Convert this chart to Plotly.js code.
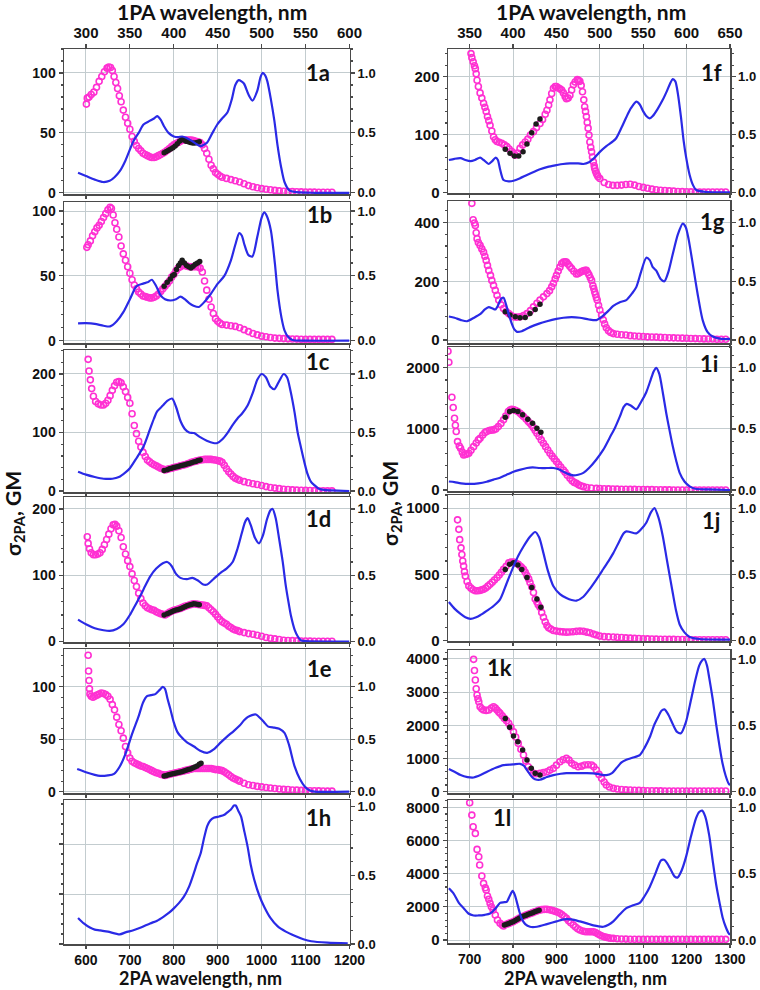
<!DOCTYPE html>
<html><head><meta charset="utf-8">
<script src="https://cdn.plot.ly/plotly-3.0.1.min.js"></script>
<style>html,body{margin:0;padding:0;background:#fff}#c{width:760px;height:990px}</style>
</head><body><div id="c"></div>
<script>
// ---------- DATA ----------
// 1a
const pinkX_a=[601,603,607,612,618,624,630,636,642,648,652,656,660,664,668,672,676,680,685,690,695,700,705,710,715,720,725,730,735,740,745,750,755,760,765,770,775,780,785,790,795,800,805,810,815,820,825,830,835,840,845,850,855,860,865,870,875,880,885,890,895,900,905,910,920,930,940,950,960,970,980,990,1000,1010,1020,1030,1040,1050,1060,1070,1080,1090,1100,1110,1120,1130,1140,1150,1160];
const pinkY_a=[74,79,80,82,84,88,93,97,101,104,105,104.5,102,97,92,87,81,76,69,63,58,53,47,43,39.5,37,35,33,32,31,30,29.5,29.5,30,31,32,33,34,35.5,37,38.5,40,41,42,43,44,44,44,44,44,43.5,43,42.5,42,40,37,33,28,23,20,17,15.5,14,13,12,11,10,9,7.5,6,5,4.2,3.5,3,2.5,2,1.6,1.3,1.1,1,0.9,0.8,0.7,0.6,0.6,0.5,0.5,0.5,0.5];
const blackX_a=[778,783,788,793,798,803,808,813,818,823,828,833,838,843,848,853,858];
const blackY_a=[33.5,34.5,35.5,36.5,37.5,39,41,43,44.5,44,43,42.5,42,41.5,41.5,42,42.5];
const blueX_a=[582,600,620,639,654,665,677,690,708,720,731,745,755,762,770,777,788,800,810,819,828,838,850,861,868,876,888,899,910,922,932,940,948,954,960,970,979,990,997,1002,1008,1013,1021,1029,1036,1044,1052,1063,1080,1120,1200];
const blueY_a=[0.167,0.14,0.11,0.09,0.1,0.13,0.18,0.27,0.43,0.5,0.57,0.6,0.62,0.64,0.61,0.56,0.5,0.47,0.465,0.47,0.46,0.44,0.41,0.39,0.4,0.42,0.5,0.57,0.62,0.67,0.78,0.9,0.94,0.93,0.91,0.82,0.77,0.85,0.96,1.0,0.98,0.93,0.78,0.6,0.4,0.22,0.09,0.02,0.005,0,0];
// 1b
const pinkX_b=[602,605,610,615,620,625,630,635,640,645,650,655,658,662,666,670,675,680,685,690,695,700,705,710,715,720,725,730,735,740,745,750,755,760,765,770,775,780,785,790,795,800,805,810,815,820,825,830,835,840,845,850,855,860,865,870,875,880,885,890,895,900,905,910,920,930,940,950,960,970,980,990,1000,1010,1020,1030,1040,1050,1060,1070,1080,1090,1100,1110,1120,1130,1140,1150,1160];
const pinkY_b=[72,74,77,81,84,87,89,92,95,98,101,103,102,97,91,86,80,73,67,62,57,52,47,43,40,37.5,36,34.5,34,33.5,33,33,33.5,34.5,36,38,40,42,44,46,49,51,54,56,57,58,58,57.5,57,57,57,57,57,56,53,46,39,32,26,21,17,15,13.5,12.5,12,11.5,11,10,8.5,7,5.5,4.5,3.5,3,2.5,2,1.8,1.6,1.4,1.3,1.2,1.1,1,1,1,1,1,1,1];
const blackX_b=[778,785,792,797,801,806,811,815,819,824,829,834,839,844,849,854,859];
const blackY_b=[42,45,47.5,50,51,55,58,60,62,60,58,57,56,57.5,59,60,61];
const blueX_b=[582,600,620,640,655,670,685,700,715,730,740,750,760,770,780,792,805,815,825,835,845,857,870,884,900,915,930,940,949,955,960,970,979,990,1000,1006,1012,1021,1030,1036,1045,1052,1060,1070,1100,1200];
const blueY_b=[0.134,0.135,0.13,0.115,0.11,0.15,0.22,0.32,0.42,0.44,0.45,0.47,0.42,0.35,0.32,0.31,0.32,0.34,0.32,0.29,0.27,0.26,0.3,0.36,0.44,0.5,0.62,0.74,0.83,0.81,0.75,0.66,0.65,0.8,0.95,0.99,0.96,0.85,0.6,0.39,0.18,0.08,0.03,0.005,0,0];
// 1c
const pinkX_c=[605,607,610,613,617,622,628,634,640,645,650,655,660,665,670,675,680,685,690,695,700,705,710,715,720,725,730,735,740,745,750,755,760,765,770,775,780,785,790,795,800,805,810,815,820,825,830,835,840,845,850,855,860,865,870,875,880,885,890,895,900,905,910,915,920,925,930,935,940,945,950,960,970,980,990,1000,1010,1020,1030,1040,1050,1060,1070,1080,1090,1100,1110,1120,1130,1140,1150,1160];
const pinkY_c=[225,205,190,175,162,153,149,147,147,150,155,163,172,180,186,187,185,178,170,160,150,132,112,98,85,75,66,59,53,50,47,45,43,41,39,37.5,36,37,38,39,40,41,42,43,44,45,46,47.5,49,50,51,52,53,53.5,54,54,54,54,53.5,53,52,51,49,44,38,33,29,25,22,20,18.5,16,14,12.5,11,9.5,7.5,6,5,4,3,2.5,2,1.5,1.2,1,0.8,0.6,0.5,0.4,0.3,0.3];
const blackX_c=[778,785,790,795,800,805,810,815,820,825,830,835,840,845,850,855,860];
const blackY_c=[35,36.5,38,39,40,41,42,43,44,45,46,47,48.5,49.5,50.5,52,53];
const blueX_c=[582,600,620,640,660,675,690,700,715,731,745,755,762,775,785,796,805,815,825,835,846,860,875,890,899,910,922,935,945,955,968,980,990,1000,1010,1020,1029,1040,1050,1058,1066,1075,1082,1089,1097,1104,1112,1120,1130,1142,1160,1200];
const blueY_c=[0.165,0.14,0.12,0.105,0.105,0.12,0.16,0.195,0.28,0.38,0.52,0.62,0.68,0.73,0.77,0.79,0.72,0.6,0.53,0.5,0.495,0.46,0.43,0.41,0.41,0.44,0.495,0.57,0.62,0.66,0.73,0.84,0.95,1.0,0.97,0.89,0.87,0.94,1.0,0.97,0.85,0.67,0.5,0.38,0.25,0.15,0.08,0.05,0.02,0.01,0.005,0];
// 1d
const pinkX_d=[603,605,608,612,617,622,627,632,637,642,647,652,657,662,666,670,675,680,685,690,695,700,705,710,715,720,725,730,735,740,745,750,755,760,765,770,775,780,785,790,795,800,805,810,815,820,825,830,835,840,845,850,855,860,865,870,875,880,885,890,895,900,905,910,915,920,925,930,935,940,945,950,960,970,980,990,1000,1010,1020,1030,1040,1050,1060,1070,1080,1090,1100,1110,1120,1130,1140,1150,1160];
const pinkY_d=[158,148,140,134,131,131,132,134,139,146,154,162,170,176,177,174,167,157,143,132,122,113,102,92,83,73,65,58,54,51,49.5,48,47,45,43.5,42,41,40,42,44,45.5,47,48,49,50,51.5,53,54,55,56,57,56.5,56,55.5,55,54.5,54,51,48,45,41,37,33,30,28,26,23,21,19,17.5,16.5,15,13.5,12,11,9.5,8,6,5,4,3,2,1.6,1.3,1,0.8,0.7,0.6,0.5,0.5,0.5,0.5,0.5];
const blackX_d=[778,785,790,795,800,805,810,815,820,825,830,835,840,845,850,855,858];
const blackY_d=[40,42,43.5,45,46.5,47.5,48.5,49.5,51,52.5,54,55,56,57,56.5,56,55.5];
const blueX_d=[582,600,620,640,654,670,685,700,710,723,735,746,760,775,785,795,805,815,830,842,855,867,876,890,907,920,934,945,955,962,968,975,985,994,1003,1012,1020,1025,1032,1040,1048,1055,1062,1067,1075,1082,1089,1100,1200];
const blueY_d=[0.165,0.13,0.1,0.085,0.08,0.095,0.13,0.2,0.26,0.34,0.42,0.49,0.55,0.59,0.6,0.57,0.51,0.48,0.47,0.48,0.46,0.43,0.43,0.47,0.52,0.55,0.6,0.7,0.82,0.9,0.93,0.88,0.78,0.74,0.8,0.92,0.99,1.0,0.93,0.77,0.6,0.42,0.28,0.19,0.09,0.04,0.01,0.003,0];
// 1e
const pinkX_e=[605,606,607,608,609,612,616,620,625,630,635,640,645,650,655,660,665,670,675,680,685,690,695,700,705,710,715,720,725,730,735,740,745,750,755,760,765,770,775,780,785,790,795,800,805,810,815,820,825,830,835,840,845,850,855,860,865,870,875,880,885,890,895,900,905,910,915,920,925,930,935,940,945,950,960,970,980,990,1000,1010,1020,1030,1040,1050,1060,1070,1080,1090,1100,1110,1120,1130,1140,1150,1160];
const pinkY_e=[130,115,106,98,93,91,90,91,92,93,94,93.5,92.5,91,88,83,78,71,64,58,51,43,37,32,29,27.5,26.5,25.5,24.5,24,23,22,21,20,19,18,17.5,16.5,16,15.5,16,16.5,17,17.5,18,18.5,19,19.5,20,20.5,21,21.5,22,22,22,22,22,22,22,22,22,21.5,21,21,20.5,20,19,17.5,16,14.5,13,12,11,10,8,6.5,5.8,5,4.5,4,3.5,3,2.5,2.2,2,1.6,1.4,1.2,1,0.9,0.8,0.7,0.6,0.5,0.5];
const blackX_e=[778,783,788,793,798,803,808,813,818,823,828,833,838,843,848,853,858,862];
const blackY_e=[15,15.5,16,16.5,17,17.5,18,18.5,19,19.7,20.5,21,21.5,22.5,23.5,24.5,26,27];
const blueX_e=[580,600,620,632,650,664,677,690,705,720,730,739,748,758,768,775,780,786,792,800,808,815,830,846,860,876,890,907,920,937,950,960,968,978,987,997,1006,1015,1029,1040,1052,1062,1075,1087,1098,1110,1120,1200];
const blueY_e=[0.215,0.185,0.16,0.15,0.155,0.17,0.24,0.36,0.55,0.72,0.85,0.91,0.92,0.93,0.97,1.0,0.98,0.88,0.79,0.66,0.57,0.53,0.47,0.43,0.39,0.37,0.4,0.47,0.52,0.58,0.63,0.68,0.71,0.73,0.735,0.7,0.66,0.62,0.61,0.6,0.56,0.45,0.24,0.12,0.05,0.01,0,0];
// 1h
const blueX_h=[582,595,609,620,632,650,677,690,708,725,746,762,777,790,800,812,823,835,846,853,861,868,876,883,891,903,914,922,930,937,941,947,953,960,968,975,983,995,1006,1020,1036,1055,1075,1095,1113,1150,1196];
const blueY_h=[0.19,0.15,0.12,0.105,0.1,0.09,0.07,0.085,0.1,0.12,0.15,0.17,0.2,0.23,0.26,0.3,0.345,0.42,0.52,0.59,0.66,0.76,0.86,0.9,0.92,0.93,0.94,0.96,0.98,1.01,1.01,0.97,0.93,0.83,0.71,0.58,0.47,0.35,0.27,0.19,0.13,0.09,0.06,0.035,0.02,0.01,0.005];
// 1f
const pinkX_f=[703,705,708,711,713,715,717,720,724,728,732,735,738,741,744,747,751,755,759,763,768,774,780,786,791,797,801,805,810,816,822,828,834,840,847,854,862,868,874,878,882,885,889,893,897,900,904,908,912,916,920,923,927,931,935,939,943,948,951,954,957,960,963,965,967,969,971,973,975,977,979,981,983,985,987,988,990,992,994,996,1000,1010,1020,1030,1040,1050,1060,1070,1080,1090,1100,1110,1120,1130,1140,1150,1160,1170,1180,1190,1200,1210,1220,1230,1240,1250,1260,1270,1280,1290];
const pinkY_f=[240,233,226,219,214,205,194,183,172,163,154,147,140,131,124,116,106,96,91,88,86.5,85,82,79,75,70.5,67,64,68,76,82,87,92,99,105,112,119,126,135,142,151,160,171,180,183,183,181,179,177,172,166,162,163,168,177,186,191,195,194,192,185,174,160,148,140,131,121,111,99,87,78,70,61,53,46,41.5,37,33,30,27,24,17,13.5,12,12,12.5,13.5,14,12.5,10,8.5,7,5.5,4.5,3.5,3,2.5,2,1.5,1.2,1,0.8,0.6,0.5,0.5,0.5,0.5,0.5,0.5,0.5];
const blackX_f=[782,793,803,813,823,832,843,853,862];
const blackY_f=[74.5,67.6,62.9,62.9,70.3,83.6,103,118,127];
const blueX_f=[652,665,679,690,702,712,724,732,744,752,760,765,770,778,790,801,815,832,850,862,880,900,915,931,950,962,975,985,1000,1015,1030,1038,1050,1061,1072,1084,1092,1100,1107,1115,1122,1133,1145,1155,1163,1168,1174,1180,1187,1193,1199,1207,1215,1222,1240,1260,1300];
const blueY_f=[0.28,0.29,0.295,0.28,0.27,0.28,0.3,0.28,0.245,0.27,0.3,0.28,0.2,0.106,0.095,0.1,0.12,0.15,0.18,0.2,0.22,0.235,0.245,0.25,0.25,0.245,0.26,0.29,0.35,0.4,0.44,0.47,0.56,0.65,0.73,0.785,0.76,0.7,0.66,0.64,0.66,0.72,0.8,0.88,0.95,0.98,0.96,0.85,0.65,0.45,0.3,0.15,0.06,0.02,0.005,0,0];
// 1g
const pinkX_g=[705,708,711,713,715,717,720,724,728,732,735,738,741,744,748,751,755,759,763,767,772,778,784,790,795,801,808,816,824,832,840,847,855,862,870,878,884,889,893,897,900,904,908,912,916,920,923,927,931,935,940,946,950,954,958,962,966,969,972,975,978,981,984,986,988,990,992,994,997,1000,1004,1008,1011,1015,1020,1025,1031,1040,1050,1060,1070,1080,1090,1100,1110,1120,1130,1140,1150,1160,1170,1180,1190,1200,1210,1220,1230,1240,1250,1260,1270,1280,1290];
const pinkY_g=[465,409,398,390,365,345,332,322,310,299,285,271,254,237,220,203,186,169,152,136,120,107,97,90,84,79,78,79,83,90,100,113,125,136,147,158,168,181,193,208,220,235,248,260,265,266,265,258,250,243,234,225,226,230,233,236,237,237,230,222,212,203,185,175,164,155,145,136,118,102,85,68,55,42,32,26,22,20,18,17,15,14,13,12,11,10.5,10,9,8.5,8,7.5,7,6.5,6,5.5,5,4.5,4,3.5,3.5,3,3,3];
const blackX_g=[782,793,805,816,828,839,851,862];
const blackY_g=[96,85,79,75.5,77,90,104,122];
const blueX_g=[652,665,680,694,710,724,735,744,752,759,766,772,778,784,790,797,803,809,820,839,860,878,900,916,935,954,975,992,1005,1020,1031,1045,1061,1075,1084,1095,1107,1115,1122,1130,1140,1149,1158,1168,1180,1191,1198,1205,1214,1225,1237,1248,1260,1280,1300];
const blueY_g=[0.2,0.19,0.17,0.16,0.19,0.22,0.26,0.28,0.27,0.26,0.3,0.35,0.36,0.3,0.22,0.14,0.09,0.07,0.075,0.11,0.14,0.16,0.18,0.19,0.195,0.19,0.175,0.17,0.2,0.25,0.29,0.32,0.34,0.4,0.45,0.58,0.7,0.68,0.62,0.59,0.52,0.5,0.58,0.73,0.9,0.99,0.96,0.85,0.65,0.4,0.17,0.07,0.03,0.01,0.01];
// 1i
const pinkX_i=[650,652,659,662,665,667,669,672,676,679,683,686,690,694,698,703,709,715,720,724,730,735,739,745,750,755,760,766,772,778,783,789,793,797,802,806,811,816,820,824,830,835,839,843,847,851,855,860,865,870,875,880,885,890,895,900,905,910,916,920,925,931,936,941,946,951,956,962,970,980,992,1000,1010,1020,1030,1040,1050,1060,1070,1080,1090,1100,1110,1120,1130,1140,1150,1160,1170,1180,1190,1200,1210,1220,1230,1240,1250,1260,1270,1280,1290];
const pinkY_i=[2270,2090,1519,1350,1175,1060,957,792,720,683,620,574,580,590,601,650,710,770,820,847,900,940,957,975,980,984,1000,1038,1090,1148,1210,1284,1310,1322,1312,1300,1284,1255,1230,1202,1160,1120,1093,1060,1020,975,929,875,820,765,710,655,601,555,510,465,420,375,328,290,240,191,150,125,109,85,70,55,42,33,27,24,21,18,16,15,13,12,11,10,9,8,7,6,5,4,3,2,1.5,1,1,1,1,1,1,1,1,1,1,1,1];
const blackX_i=[782,792,801,811,822,834,845,855,864];
const blackY_i=[1191,1284,1300,1284,1230,1158,1093,1011,945];
const blueX_i=[652,665,680,702,720,739,755,770,785,801,815,832,845,862,878,893,905,916,928,939,950,962,975,992,1008,1023,1035,1046,1055,1062,1072,1084,1095,1107,1117,1124,1130,1137,1145,1153,1160,1168,1176,1184,1195,1207,1220,1250,1300];
const blueY_i=[0.07,0.065,0.055,0.05,0.055,0.068,0.085,0.1,0.125,0.15,0.165,0.18,0.185,0.18,0.18,0.18,0.17,0.15,0.13,0.12,0.125,0.14,0.18,0.25,0.33,0.43,0.51,0.6,0.68,0.705,0.69,0.66,0.72,0.8,0.9,0.97,1.0,0.95,0.8,0.63,0.5,0.36,0.24,0.14,0.07,0.03,0.01,0.005,0];
// 1j
const pinkX_j=[672,675,677,680,682,684,686,688,690,694,698,703,708,713,718,723,728,732,737,742,747,752,757,763,768,773,778,784,790,795,801,806,812,817,820,824,828,832,836,839,843,847,851,855,858,862,866,870,874,878,882,887,893,900,908,915,923,930,938,946,954,962,970,977,985,992,1000,1010,1020,1031,1040,1050,1060,1070,1080,1090,1100,1110,1120,1130,1140,1150,1160,1170,1180,1190,1200,1210,1220,1230,1240,1250,1260,1270,1280,1290];
const pinkY_j=[912,840,762,700,650,600,562,520,487,445,412,395,383,375,375,377,382,387,396,410,425,440,457,475,495,515,537,560,587,592,592,585,575,560,550,537,515,490,465,437,405,362,312,290,270,250,210,175,140,112,95,85,75,70,66,64,62,63,65,68,70,68,62,57,48,40,32,28,26,25,23,21,19,17,15,14,12,11,10,9,8,8,7,7,6,6,6,5,5,5,5,5,5,5,5,5];
const blackX_j=[782,792,801,811,820,832,843,855,864];
const blackY_j=[537,575,587,570,537,475,400,312,250];
const blueX_j=[652,665,679,690,702,715,724,740,755,770,785,801,812,824,838,851,860,870,880,893,908,923,935,946,962,977,992,1008,1020,1031,1045,1055,1061,1070,1084,1095,1107,1118,1126,1135,1145,1155,1168,1176,1184,1195,1207,1230,1300];
const blueY_j=[0.29,0.24,0.2,0.175,0.163,0.175,0.19,0.225,0.26,0.31,0.43,0.56,0.64,0.71,0.78,0.82,0.78,0.66,0.53,0.41,0.35,0.32,0.305,0.3,0.33,0.39,0.46,0.54,0.6,0.66,0.75,0.81,0.825,0.82,0.81,0.84,0.89,0.97,1.0,0.93,0.79,0.6,0.36,0.22,0.12,0.06,0.025,0.01,0.005];
// 1k
const pinkX_k=[709,711,713,715,717,719,721,724,728,732,738,744,750,755,759,763,767,770,775,780,785,790,795,801,806,812,818,824,829,835,840,847,853,862,870,878,885,893,900,908,915,923,929,935,942,950,958,965,973,981,986,992,998,1004,1010,1015,1022,1031,1040,1050,1060,1070,1080,1090,1100,1110,1120,1130,1140,1150,1160,1170,1180,1190,1200,1210,1220,1230,1240,1250,1260,1270,1280,1290];
const pinkY_k=[3988,3650,3365,3100,2913,2800,2711,2560,2500,2460,2450,2460,2520,2560,2520,2460,2400,2360,2290,2209,2140,2058,1950,1807,1650,1456,1280,1104,930,753,650,552,540,552,575,602,650,703,800,903,960,1004,950,853,800,753,770,803,810,803,750,652,520,402,290,201,140,100,80,65,55,50,45,40,35,30,30,25,25,20,20,20,20,20,20,20,20,20,20,20,20,20,20,20];
const blackX_k=[782,792,801,811,822,832,842,851,862];
const blackY_k=[2209,1938,1676,1506,1255,954,703,552,502];
const blueX_k=[652,665,679,695,709,725,740,760,778,800,816,825,832,840,847,855,862,878,893,910,923,940,954,970,985,1000,1015,1028,1038,1050,1061,1075,1092,1103,1115,1125,1134,1142,1149,1158,1168,1178,1187,1198,1210,1220,1229,1236,1241,1247,1252,1260,1268,1276,1283,1290,1297,1300];
const blueY_k=[0.17,0.15,0.125,0.11,0.107,0.125,0.15,0.18,0.2,0.205,0.21,0.195,0.163,0.125,0.1,0.09,0.09,0.11,0.125,0.135,0.14,0.14,0.14,0.14,0.138,0.13,0.125,0.14,0.176,0.22,0.24,0.255,0.275,0.33,0.41,0.5,0.56,0.61,0.62,0.58,0.51,0.45,0.44,0.52,0.69,0.84,0.95,0.99,1.0,0.95,0.86,0.7,0.51,0.34,0.21,0.12,0.06,0.05];
// 1l
const pinkX_l=[700,705,708,713,717,721,723,728,732,736,738,741,744,747,750,754,759,764,770,775,778,785,790,795,800,805,810,815,820,825,830,835,840,845,850,855,860,866,872,878,884,889,893,898,903,908,913,918,923,928,933,939,944,949,954,960,965,969,975,980,985,990,995,1000,1005,1010,1015,1020,1025,1031,1040,1050,1060,1070,1080,1090,1100,1110,1120,1130,1140,1150,1160,1170,1180,1190,1200,1210,1220,1230,1240,1250,1260,1270,1280,1290];
const pinkY_l=[8273,7530,6827,6426,5462,5020,4518,3855,3414,3150,3012,2651,2450,2209,2000,1807,1506,1205,1004,900,843,950,1000,1050,1100,1180,1250,1330,1400,1450,1500,1550,1600,1650,1700,1750,1800,1830,1847,1847,1820,1790,1767,1720,1670,1606,1520,1420,1305,1160,1040,904,780,680,602,540,510,502,500,500,502,450,380,301,240,190,161,130,110,100,80,65,55,50,45,40,40,40,40,40,40,40,40,40,40,40,40,40,40,40,40,40,40,40,40,40];
const blackX_l=[780,785,790,795,800,805,810,815,820,825,830,835,840,845,850,855,860];
const blackY_l=[900,950,1000,1050,1100,1180,1250,1320,1400,1450,1500,1550,1600,1650,1700,1750,1800];
const blueX_l=[652,663,675,686,697,709,720,735,747,760,770,780,786,792,799,804,808,814,820,828,839,855,878,900,916,935,954,970,985,1008,1020,1031,1045,1061,1075,1092,1103,1115,1128,1141,1148,1155,1165,1172,1179,1188,1199,1210,1222,1229,1236,1243,1252,1260,1268,1276,1283,1290,1297,1300];
const blueY_l=[0.39,0.35,0.28,0.24,0.2,0.185,0.185,0.19,0.2,0.24,0.28,0.285,0.29,0.33,0.37,0.34,0.295,0.22,0.16,0.12,0.1,0.1,0.12,0.14,0.155,0.155,0.14,0.125,0.11,0.1,0.115,0.14,0.19,0.24,0.26,0.28,0.33,0.4,0.5,0.6,0.605,0.58,0.52,0.48,0.47,0.52,0.63,0.78,0.92,0.965,0.975,0.93,0.79,0.6,0.42,0.28,0.17,0.1,0.05,0.04];

const panelLabels=['1a','1b','1c','1d','1e','1h','1f','1g','1i','1j','1k','1l'];
const leftTop=['300','350','400','450','500','550','600'];
const rightTop=['350','400','450','500','550','600','650'];

// ---------- LAYOUT / DRAWING ----------
const W=760,H=990;
const PINK='#ff30d2', BLUE='#2a2ae6', BLK='#1c1c1c', AX='#4a4a4a', GRID='#c3cccf';
const FT="'Liberation Sans', Arial, sans-serif";
const TF="Lato, 'Open Sans', sans-serif";
const fx=p=>p/W, fy=p=>1-p/H;
const cols=[[64,349.5],[448,730]];
const xr=[[550,1200],[650,1300]];
const P=[
 {c:0,t:49,b:194,yr:[-1,120],sc:100,dt:50,pX:pinkX_a,pY:pinkY_a,bX:blackX_a,bY:blackY_a,lX:blueX_a,lY:blueY_a,lx:318,ly:72},
 {c:0,t:202,b:343,yr:[-1.8,107],sc:100,dt:50,pX:pinkX_b,pY:pinkY_b,bX:blackX_b,bY:blackY_b,lX:blueX_b,lY:blueY_b,lx:319,ly:215},
 {c:0,t:350,b:492,yr:[-1.7,241],sc:200,dt:100,pX:pinkX_c,pY:pinkY_c,bX:blackX_c,bY:blackY_c,lX:blueX_c,lY:blueY_c,lx:318,ly:361},
 {c:0,t:497,b:642,yr:[-0.7,218],sc:200,dt:100,pX:pinkX_d,pY:pinkY_d,bX:blackX_d,bY:blackY_d,lX:blueX_d,lY:blueY_d,lx:318,ly:518},
 {c:0,t:649,b:793,yr:[-1.3,136],sc:100,dt:50,pX:pinkX_e,pY:pinkY_e,bX:blackX_e,bY:blackY_e,lX:blueX_e,lY:blueY_e,lx:319,ly:668},
 {c:0,t:800,b:944,yr:[0,2.88],sc:2.74,dt:1,pX:[],pY:[],bX:[],bY:[],lX:blueX_h,lY:blueY_h,lx:318,ly:817,hide:true},
 {c:1,t:49,b:193,yr:[-1.2,248],sc:200,dt:100,pX:pinkX_f,pY:pinkY_f,bX:blackX_f,bY:blackY_f,lX:blueX_f,lY:blueY_f,lx:711,ly:72},
 {c:1,t:201,b:343,yr:[-10,473],sc:400,dt:200,pX:pinkX_g,pY:pinkY_g,bX:blackX_g,bY:blackY_g,lX:blueX_g,lY:blueY_g,lx:712,ly:221},
 {c:1,t:347,b:491,yr:[-16,2340],sc:2000,dt:1000,pX:pinkX_i,pY:pinkY_i,bX:blackX_i,bY:blackY_i,lX:blueX_i,lY:blueY_i,lx:709,ly:363},
 {c:1,t:495,b:641,yr:[-5,1100],sc:1000,dt:500,pX:pinkX_j,pY:pinkY_j,bX:blackX_j,bY:blackY_j,lX:blueX_j,lY:blueY_j,lx:711,ly:520},
 {c:1,t:650,b:793,yr:[-40,4270],sc:4000,dt:1000,pX:pinkX_k,pY:pinkY_k,bX:blackX_k,bY:blackY_k,lX:blueX_k,lY:blueY_k,lx:499,ly:667},
 {c:1,t:800,b:943,yr:[-180,8440],sc:8000,dt:2000,pX:pinkX_l,pY:pinkY_l,bX:blackX_l,bY:blackY_l,lX:blueX_l,lY:blueY_l,lx:502,ly:817}
];
const traces=[], layout={width:W,height:H,margin:{l:0,r:0,t:0,b:0},paper_bgcolor:'#fff',plot_bgcolor:'#fff',showlegend:false,annotations:[],font:{family:FT,color:'#111'}};
const nm=(p,n)=>p+(n===1?'':n);
P.forEach((p,i)=>{
  const xi=i+1, yl=2*i+1, yrr=2*i+2;
  const xa='x'+(xi===1?'':xi), ya='y'+(yl===1?'':yl), yb='y'+yrr;
  const isBottom=(i===5||i===11);
  const lfs=p.c===0?14:15;
  layout[nm('xaxis',xi)]={domain:[fx(cols[p.c][0]),fx(cols[p.c][1])],range:xr[p.c],anchor:ya,tick0:0,dtick:100,
    showgrid:true,gridcolor:GRID,gridwidth:1,zeroline:false,showline:true,linecolor:AX,linewidth:1.5,mirror:true,
    ticks:'outside',ticklen:3,tickwidth:1.2,tickcolor:AX,showticklabels:isBottom,
    tickfont:{family:FT,size:14,color:'#111',weight:'bold'}};
  layout[nm('yaxis',yl)]={domain:[fy(p.b),fy(p.t)],range:p.yr,anchor:xa,side:'left',tick0:0,dtick:p.dt,
    showgrid:true,gridcolor:GRID,gridwidth:1,zeroline:false,showline:true,linecolor:AX,linewidth:1.5,
    ticks:'outside',ticklen:4,tickwidth:1.2,tickcolor:AX,showticklabels:!p.hide,
    minor:{ticks:'outside',ticklen:2,tickcolor:AX,dtick:p.hide?0.2:p.dt/5,showgrid:false},
    tickfont:{family:FT,size:lfs,color:'#111',weight:'bold'}};
  const rr=p.hide?[0,1.05]:[p.yr[0]/p.sc,p.yr[1]/p.sc];
  layout[nm('yaxis',yrr)]={overlaying:ya,range:rr,anchor:xa,side:'right',tick0:0,dtick:0.5,tickformat:'.1f',
    showgrid:false,zeroline:false,showline:true,linecolor:AX,linewidth:1.5,
    ticks:'outside',ticklen:4,tickwidth:1.2,tickcolor:AX,
    minor:{ticks:'outside',ticklen:2,tickcolor:AX,dtick:0.1,showgrid:false},
    tickfont:{family:FT,size:13,color:'#111',weight:'bold'}};
  traces.push({type:'scatter',mode:'markers',x:p.pX,y:p.pY,xaxis:xa,yaxis:ya,hoverinfo:'skip',
    marker:{symbol:'circle-open',size:6,color:PINK,line:{width:1.6,color:PINK}}});
  traces.push({type:'scatter',mode:'markers',x:p.bX,y:p.bY,xaxis:xa,yaxis:ya,hoverinfo:'skip',
    marker:{symbol:'circle',size:5.5,color:BLK}});
  traces.push({type:'scatter',mode:'lines',x:p.lX,y:p.lY,xaxis:xa,yaxis:yb,hoverinfo:'skip',
    line:{color:BLUE,width:2.2,shape:'spline',smoothing:0.7}});
  layout.annotations.push({xref:'paper',yref:'paper',x:fx(p.lx),y:fy(p.ly),text:'<b>'+panelLabels[i]+'</b>',showarrow:false,
    xanchor:'center',yanchor:'middle',font:{family:TF,size:22,color:'#111'}});
});
// top (1PA) axes
[[0,13,leftTop],[1,14,rightTop]].forEach(([c,n,labs])=>{
  const base=c===0?1:7;
  const xa='x'+(base===1?'':base), ya='y'+(base===1?'':(2*(base-1)+1));
  const tv=labs.map(Number);
  layout['xaxis'+n]={overlaying:xa,anchor:ya,side:'top',range:[xr[c][0]/2,xr[c][1]/2],tickmode:'array',tickvals:tv,ticktext:labs,
    showgrid:false,zeroline:false,showline:false,ticks:'outside',ticklen:4,tickwidth:1.2,tickcolor:AX,
    tickfont:{family:FT,size:15,color:'#111',weight:'bold'}};
  traces.push({type:'scatter',mode:'markers',x:[tv[0]],y:[-1e9],xaxis:'x'+n,yaxis:ya,hoverinfo:'skip',marker:{size:1,opacity:0}});
});
// titles
const T=(x,y,txt,ang,sz)=>layout.annotations.push({xref:'paper',yref:'paper',x:fx(x),y:fy(y),text:txt,showarrow:false,
  xanchor:'center',yanchor:'middle',textangle:ang||0,font:{family:TF,size:sz||21,color:'#111'}});
T(212,12,'<b>1PA wavelength, nm</b>');
T(591,12,'<b>1PA wavelength, nm</b>');
T(200,978,'<b>2PA wavelength, nm</b>',0,18);
T(585,978,'<b>2PA wavelength, nm</b>',0,18);
T(14,514,'<b>σ<sub>2PA</sub>, GM</b>',-90);
T(391,504,'<b>σ<sub>2PA</sub>, GM</b>',-90);
Plotly.newPlot('c',traces,layout,{staticPlot:true,displayModeBar:false});
</script></body></html>
